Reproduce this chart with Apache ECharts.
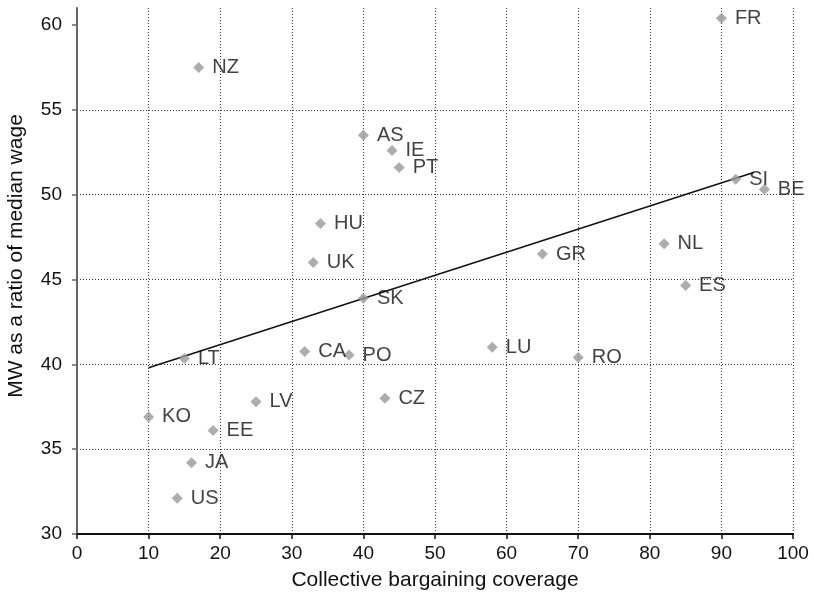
<!DOCTYPE html>
<html>
<head>
<meta charset="utf-8">
<script src="https://cdn.jsdelivr.net/npm/echarts@6/dist/echarts.min.js"></script>
<style>
  html, body { margin: 0; padding: 0; background: #fff; }
  #chart { width: 814px; height: 600px; }
</style>
</head>
<body>
<div id="chart"></div>
<script>
// country codes, bargaining coverage (%) and minimum wage / median wage
const countries = ['FR', 'NZ', 'AS', 'IE', 'PT', 'SI', 'BE', 'HU', 'NL', 'GR', 'UK', 'ES', 'SK',
  'LT', 'CA', 'PO', 'LU', 'RO', 'LV', 'CZ', 'KO', 'EE', 'JA', 'US']
const coverage = [90, 17, 40, 44, 45, 92, 96, 34, 82, 65, 33, 85, 40,
  15, 31.8, 38, 58, 70, 25, 43, 10, 19, 16, 14]
const mwRatio = [60.4, 57.5, 53.5, 52.6, 51.6, 50.9, 50.3, 48.3, 47.1, 46.5, 46.0, 44.65, 43.9,
  40.35, 40.75, 40.55, 41.0, 40.4, 37.8, 38.0, 36.9, 36.1, 34.2, 32.1]

// fitted line end points
const trendX = [10, 94.5]
const trendY = [39.8, 51.3]

const yTicks = [30, 35, 40, 45, 50, 55, 60]

const points = countries.map((c, i) => ({ name: c, value: [coverage[i], mwRatio[i]] }))
const trend = trendX.map((x, i) => [x, trendY[i]])

const font = 'Liberation Sans, Arial, sans-serif'
const chart = echarts.init(document.getElementById('chart'))

chart.setOption({
  animation: false,
  grid: { left: 77, right: 21, top: 8, bottom: 66, outerBoundsMode: 'none' },
  xAxis: {
    type: 'value',
    min: 0,
    max: 100,
    interval: 10,
    name: 'Collective bargaining coverage',
    nameLocation: 'middle',
    nameGap: 36,
    nameTextStyle: { fontFamily: font, fontSize: 21, color: '#111' },
    axisLine: { show: true, lineStyle: { color: '#111', width: 2 } },
    axisTick: { show: true, length: 5, lineStyle: { color: '#111', width: 1.5 } },
    axisLabel: { fontFamily: font, fontSize: 19, color: '#111', margin: 10 },
    splitLine: { show: true, lineStyle: { color: '#333', type: [1, 2], width: 1 } }
  },
  yAxis: {
    type: 'value',
    min: 30,
    max: 61,
    interval: 5,
    name: 'MW as a ratio of median wage',
    nameLocation: 'middle',
    nameGap: 50,
    nameTextStyle: { fontFamily: font, fontSize: 21, color: '#111', padding: [0, 0, 0, 30] },
    axisLine: { show: true, lineStyle: { color: '#666', width: 2 } },
    axisTick: { show: true, length: 5, customValues: yTicks, lineStyle: { color: '#666', width: 1.5 } },
    axisLabel: { fontFamily: font, fontSize: 19, color: '#111', margin: 15, customValues: yTicks },
    splitLine: { show: true, showMinLine: false, showMaxLine: false, lineStyle: { color: '#333', type: [1, 2], width: 1 } }
  },
  series: [
    {
      type: 'line',
      data: trend,
      showSymbol: false,
      symbol: 'none',
      lineStyle: { color: '#111', width: 1.5 },
      z: 3
    },
    {
      type: 'scatter',
      data: points,
      symbol: 'diamond',
      symbolSize: 11,
      itemStyle: { color: '#999' },
      label: {
        show: true,
        position: 'right',
        distance: 8,
        formatter: p => p.name,
        fontFamily: font,
        fontSize: 20,
        color: '#111'
      },
      z: 4
    }
  ]
})
</script>
</body>
</html>
